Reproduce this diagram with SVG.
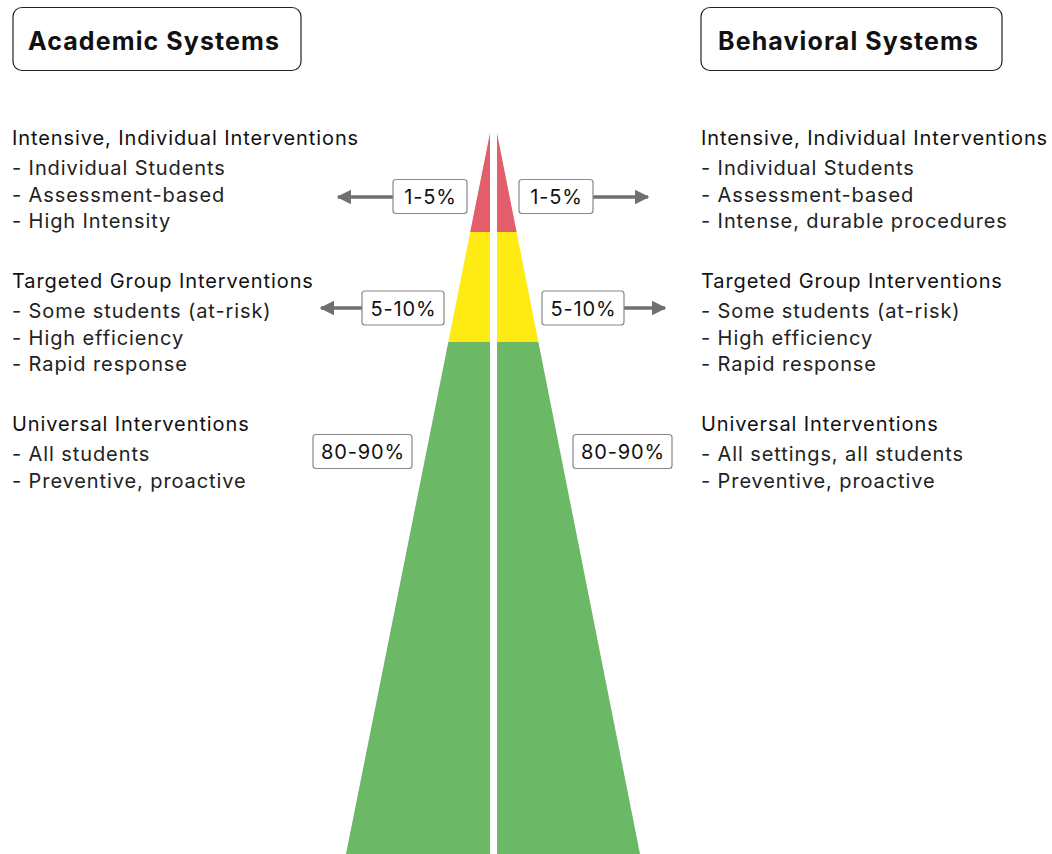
<svg xmlns="http://www.w3.org/2000/svg" width="1052" height="854" viewBox="0 0 1052 854">
<style>
.title{font-family:Inter,"Liberation Sans",sans-serif;font-size:25px;font-weight:650;fill:#111;letter-spacing:1.1px}
.h{font-family:Inter,"Liberation Sans",sans-serif;font-size:20px;fill:#111;letter-spacing:0.9px}
.i{font-family:Inter,"Liberation Sans",sans-serif;font-size:20px;fill:#222;letter-spacing:0.9px}
.pct{font-family:Inter,"Liberation Sans",sans-serif;font-size:20px;fill:#111;text-anchor:middle;letter-spacing:0.9px}
.tbox{fill:#fff;stroke:#222;stroke-width:1.2}
.pbox{fill:#fff;stroke:#888;stroke-width:1.2}
.arr{stroke:#707070;stroke-width:3.5;fill:none}
</style>
<defs>
<marker id="ah" viewBox="0 0 10 10" refX="9" refY="5" markerWidth="4.2" markerHeight="4.2" orient="auto" markerUnits="strokeWidth">
<path d="M0,0 L10,5 L0,10 z" fill="#707070"/>
</marker>
</defs>
<rect width="1052" height="854" fill="#fff"/>
<g id="pyramid">
<polygon points="490,133 490,232 470.2,232" fill="#E35D6A"/>
<polygon points="490,232 490,342 448.3,342 470.2,232" fill="#FFEB14"/>
<polygon points="490,342 490,854 346,854 448.3,342" fill="#6BB966"/>
<polygon points="497,133 497,232 516.6,232" fill="#E35D6A"/>
<polygon points="497,232 497,342 538.4,342 516.6,232" fill="#FFEB14"/>
<polygon points="497,342 497,854 640,854 538.4,342" fill="#6BB966"/>
</g>
<g id="connectors">
<line class="arr" x1="393" y1="197" x2="338" y2="197" marker-end="url(#ah)"/>
<line class="arr" x1="593" y1="197" x2="648" y2="197" marker-end="url(#ah)"/>
<line class="arr" x1="362" y1="308" x2="321" y2="308" marker-end="url(#ah)"/>
<line class="arr" x1="624" y1="308" x2="665" y2="308" marker-end="url(#ah)"/>
</g>
<g id="academic-title">
<rect class="tbox" x="13" y="7.5" width="288" height="63" rx="9"/>
<text class="title" x="28" y="50">Academic Systems</text>
</g>
<g id="behavioral-title">
<rect class="tbox" x="701" y="7.5" width="301" height="63" rx="9"/>
<text class="title" x="718" y="50">Behavioral Systems</text>
</g>
<g id="academic-intensive">
<text class="h" x="12" y="145">Intensive, Individual Interventions</text>
<text class="i" x="12" y="175">- Individual Students</text>
<text class="i" x="12" y="201.5">- Assessment-based</text>
<text class="i" x="12" y="228">- High Intensity</text>
</g>
<g id="academic-targeted">
<text class="h" x="12" y="288">Targeted Group Interventions</text>
<text class="i" x="12" y="318">- Some students (at-risk)</text>
<text class="i" x="12" y="344.5">- High efficiency</text>
<text class="i" x="12" y="371">- Rapid response</text>
</g>
<g id="academic-universal">
<text class="h" x="12" y="431">Universal Interventions</text>
<text class="i" x="12" y="461">- All students</text>
<text class="i" x="12" y="487.5">- Preventive, proactive</text>
</g>
<g id="behavioral-intensive">
<text class="h" x="701" y="145">Intensive, Individual Interventions</text>
<text class="i" x="701" y="175">- Individual Students</text>
<text class="i" x="701" y="201.5">- Assessment-based</text>
<text class="i" x="701" y="228">- Intense, durable procedures</text>
</g>
<g id="behavioral-targeted">
<text class="h" x="701" y="288">Targeted Group Interventions</text>
<text class="i" x="701" y="318">- Some students (at-risk)</text>
<text class="i" x="701" y="344.5">- High efficiency</text>
<text class="i" x="701" y="371">- Rapid response</text>
</g>
<g id="behavioral-universal">
<text class="h" x="701" y="431">Universal Interventions</text>
<text class="i" x="701" y="461">- All settings, all students</text>
<text class="i" x="701" y="487.5">- Preventive, proactive</text>
</g>
<g id="pct-left-1">
<rect class="pbox" x="393" y="179.5" width="74" height="34" rx="3"/>
<text class="pct" x="430.5" y="204">1-5%</text>
</g>
<g id="pct-right-1">
<rect class="pbox" x="519" y="179.5" width="74" height="34" rx="3"/>
<text class="pct" x="556.5" y="204">1-5%</text>
</g>
<g id="pct-left-2">
<rect class="pbox" x="362" y="291" width="82" height="34" rx="3"/>
<text class="pct" x="403.5" y="315.5">5-10%</text>
</g>
<g id="pct-right-2">
<rect class="pbox" x="542" y="291" width="82" height="34" rx="3"/>
<text class="pct" x="583.5" y="315.5">5-10%</text>
</g>
<g id="pct-left-3">
<rect class="pbox" x="313" y="434.5" width="99" height="34" rx="3"/>
<text class="pct" x="363" y="459">80-90%</text>
</g>
<g id="pct-right-3">
<rect class="pbox" x="573" y="434.5" width="99" height="34" rx="3"/>
<text class="pct" x="623" y="459">80-90%</text>
</g>
</svg>
